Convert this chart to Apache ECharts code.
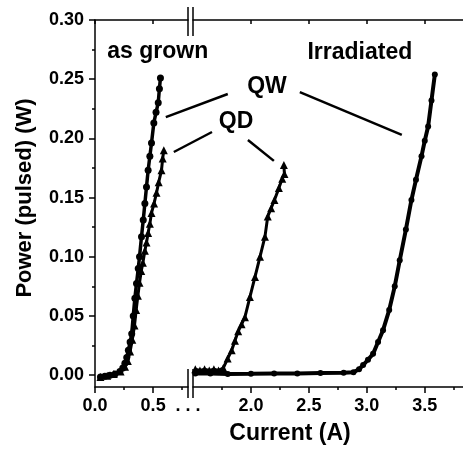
<!DOCTYPE html>
<html>
<head>
<meta charset="utf-8">
<script src="https://cdn.jsdelivr.net/npm/echarts@6/dist/echarts.min.js"></script>
<style>
html,body{margin:0;padding:0;background:#fff;}
#main{width:463px;height:451px;}
</style>
</head>
<body>
<div id="main"></div>
<script>
// 刻度
var xLabelsLeft = [0, 0.5];
var xLabelsRight = [2.0, 2.5, 3.0, 3.5];
var xMinorLeft = [0.25, 0.75];
var xMinorRight = [1.75, 2.25, 2.75, 3.25, 3.75];
var yLabels = [0, 0.05, 0.10, 0.15, 0.20, 0.25, 0.30];
var yMinor = [0.025, 0.075, 0.125, 0.175, 0.225, 0.275];

// 数据 [Current (A), Power (W)]
var grownQW = [[0.047,-0.0015],[0.085,-0.001],[0.129,0.0],[0.172,0.001],[0.214,0.003],[0.239,0.006],
	[0.257,0.010],[0.273,0.015],[0.287,0.021],[0.302,0.028],[0.316,0.035],[0.329,0.050],[0.343,0.065],
	[0.357,0.0775],[0.372,0.090],[0.383,0.100],[0.400,0.117],[0.415,0.131],[0.429,0.145],[0.443,0.159],
	[0.457,0.173],[0.472,0.185],[0.486,0.196],[0.506,0.213],[0.525,0.222],[0.544,0.230],[0.554,0.242],[0.563,0.251]];
var grownQD = [[0.047,-0.0015],[0.105,-0.0005],[0.162,0.001],[0.220,0.003],[0.258,0.007],[0.282,0.012],
	[0.302,0.020],[0.321,0.030],[0.340,0.042],[0.354,0.055],[0.369,0.067],[0.383,0.078],[0.398,0.088],
	[0.412,0.095],[0.429,0.105],[0.443,0.112],[0.457,0.120],[0.472,0.128],[0.486,0.137],[0.508,0.145],
	[0.529,0.154],[0.548,0.163],[0.572,0.173],[0.582,0.183],[0.592,0.190]];
var irrQW = [[1.52,0.0015],[1.65,0.0015],[1.80,0.001],[2.00,0.0012],[2.20,0.0015],[2.40,0.0015],
	[2.60,0.0018],[2.80,0.002],[2.885,0.0025],[2.933,0.005],[2.968,0.0085],[3.010,0.013],[3.054,0.018],
	[3.097,0.028],[3.140,0.038],[3.193,0.055],[3.241,0.075],[3.284,0.097],[3.337,0.123],[3.385,0.148],
	[3.424,0.165],[3.472,0.185],[3.500,0.198],[3.529,0.210],[3.558,0.232],[3.587,0.254]];
var irrQD = [[1.52,0.005],[1.56,0.004],[1.60,0.005],[1.64,0.004],[1.68,0.005],[1.72,0.004],[1.761,0.006],
	[1.799,0.014],[1.834,0.021],[1.862,0.029],[1.890,0.037],[1.919,0.043],[1.948,0.049],[1.991,0.066],
	[2.035,0.083],[2.078,0.100],[2.121,0.117],[2.145,0.134],[2.174,0.141],[2.203,0.148],[2.241,0.158],
	[2.270,0.166],[2.289,0.170],[2.284,0.1775]];

// 注释 [grid, x, y]
var notes = [
	{text: 'as grown', grid: 0, at: [0.54, 0.273]},
	{text: 'Irradiated', grid: 1, at: [2.94, 0.272]},
	{text: 'QW', grid: 1, at: [2.138, 0.244]},
	{text: 'QD', grid: 1, at: [1.871, 0.214]}
];
var pointers = [
	[[1, 1.80, 0.2375], [0, 0.609, 0.218]],
	[[1, 2.422, 0.239], [1, 3.302, 0.203]],
	[[1, 1.664, 0.2054], [0, 0.678, 0.1885]],
	[[1, 1.974, 0.1987], [1, 2.198, 0.181]]
];

var FONT = '"Liberation Sans", Arial, sans-serif';
var yMin = -0.01, yMax = 0.30;
var gridL = {left: 95, top: 20, width: 93, height: 367};
var gridR = {left: 193, top: 20, right: 0, height: 367};

function lineStyle() {
	return {color: '#000', width: 1.5};
}
function mainX(gi, min, max, labels, ticks) {
	return {
		type: 'value', gridIndex: gi, position: 'bottom', min: min, max: max,
		axisLine: {show: true, onZero: false, lineStyle: lineStyle()},
		axisTick: {show: true, length: 6, customValues: ticks, lineStyle: lineStyle()},
		axisLabel: {customValues: labels, margin: 10, color: '#000', fontFamily: FONT, fontWeight: 'bold', fontSize: 18,
			formatter: function(v) { return v > 0.7 && v < 1 ? '. . .' : v.toFixed(1); }},
		splitLine: {show: false}
	};
}
function topX(gi, min, max, ticks) {
	return {
		type: 'value', gridIndex: gi, position: 'top', min: min, max: max,
		axisLine: {show: true, onZero: false, lineStyle: lineStyle()},
		axisTick: {show: true, inside: true, length: 4, customValues: ticks, lineStyle: lineStyle()},
		axisLabel: {show: false}, splitLine: {show: false}
	};
}
function minorX(gi, min, max, ticks) {
	return {
		type: 'value', gridIndex: gi, position: 'bottom', min: min, max: max,
		axisLine: {show: false, onZero: false},
		axisTick: {show: true, length: 3, customValues: ticks, lineStyle: lineStyle()},
		axisLabel: {show: false}, splitLine: {show: false}
	};
}
function hiddenY(gi) {
	return {type: 'value', gridIndex: gi, min: yMin, max: yMax, show: false};
}
function curve(name, xi, data, symbol, size, width) {
	return {name: name, type: 'line', xAxisIndex: xi, yAxisIndex: xi, data: data,
		symbol: symbol, symbolSize: size, itemStyle: {color: '#000'}, lineStyle: {color: '#000', width: width}};
}

var myChart = echarts.init(document.getElementById('main'), null, {renderer: 'canvas'});
var option = {
	animation: false,
	backgroundColor: '#fff',
	grid: [gridL, gridR, gridL, gridR],
	xAxis: [
		mainX(0, 0, 0.8, xLabelsLeft.concat([0.8]), xLabelsLeft),
		mainX(1, 1.5, 3.83, xLabelsRight, xLabelsRight),
		topX(0, 0, 0.8, xLabelsLeft),
		topX(1, 1.5, 3.83, xLabelsRight),
		minorX(2, 0, 0.8, xMinorLeft),
		minorX(3, 1.5, 3.83, xMinorRight)
	],
	yAxis: [
		{
			type: 'value', gridIndex: 0, position: 'left', min: yMin, max: yMax,
			axisLine: {show: true, onZero: false, lineStyle: lineStyle()},
			axisTick: {show: true, length: 6, customValues: yLabels, lineStyle: lineStyle()},
			axisLabel: {customValues: yLabels, margin: 11, color: '#000', fontFamily: FONT, fontWeight: 'bold', fontSize: 18,
				formatter: function(v) { return v.toFixed(2); }},
			splitLine: {show: false}
		},
		hiddenY(1),
		{
			type: 'value', gridIndex: 2, position: 'left', min: yMin, max: yMax,
			axisLine: {show: false, onZero: false},
			axisTick: {show: true, length: 3, customValues: yMinor, lineStyle: lineStyle()},
			axisLabel: {show: false}, splitLine: {show: false}
		},
		hiddenY(3)
	],
	series: [
		curve('as grown QW', 0, grownQW, 'circle', 7, 3.5),
		curve('as grown QD', 0, grownQD, 'triangle', 8, 3),
		curve('irradiated QW', 1, irrQW, 'circle', 6, 4),
		curve('irradiated QD', 1, irrQD, 'triangle', 8, 3)
	]
};
myChart.setOption(option);

// 注释、断轴标记、坐标轴标题
function px(grid, x, y) {
	return myChart.convertToPixel({gridIndex: grid}, [x, y]);
}
var graphic = [];
notes.forEach(function(n) {
	var p = px(n.grid, n.at[0], n.at[1]);
	graphic.push({type: 'text', x: p[0], y: p[1], style: {text: n.text, fill: '#000', font: 'bold 23px ' + FONT,
		textAlign: 'center', textVerticalAlign: 'middle'}});
});
pointers.forEach(function(l) {
	var a = px(l[0][0], l[0][1], l[0][2]);
	var b = px(l[1][0], l[1][1], l[1][2]);
	graphic.push({type: 'line', shape: {x1: a[0], y1: a[1], x2: b[0], y2: b[1]}, style: {stroke: '#000', lineWidth: 2.5}});
});
var yTop = gridL.top, yBot = gridL.top + gridL.height;
[gridL.left + gridL.width, gridR.left].forEach(function(x) {
	graphic.push({type: 'line', shape: {x1: x, y1: yTop - 13, x2: x, y2: yTop + 16}, style: {stroke: '#000', lineWidth: 1.5}});
	graphic.push({type: 'line', shape: {x1: x, y1: yBot - 18, x2: x, y2: yBot + 11}, style: {stroke: '#000', lineWidth: 1.5}});
});
graphic.push({type: 'text', x: 290, y: 434, style: {text: 'Current (A)', fill: '#000', font: 'bold 23px ' + FONT,
	textAlign: 'center', textVerticalAlign: 'middle'}});
graphic.push({type: 'text', x: 25, y: 198, rotation: Math.PI / 2, style: {text: 'Power (pulsed) (W)', fill: '#000',
	font: 'bold 22px ' + FONT, textAlign: 'center', textVerticalAlign: 'middle'}});
myChart.setOption({graphic: graphic});
window.onresize = myChart.resize;
</script>
</body>
</html>
